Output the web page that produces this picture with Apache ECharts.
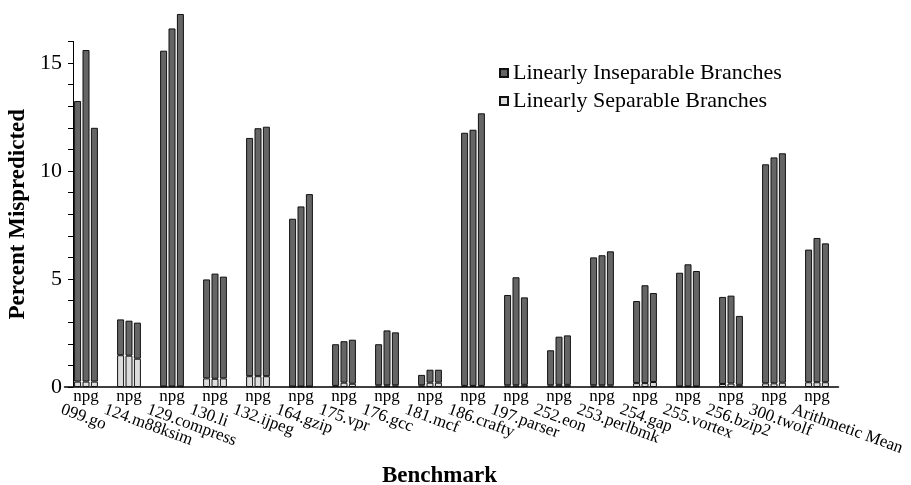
<!DOCTYPE html>
<html>
<head>
<meta charset="utf-8">
<script src="https://cdn.jsdelivr.net/npm/echarts@6/dist/echarts.min.js"></script>
<style>
  html, body { margin: 0; padding: 0; background: #fff; }
  #main { width: 911px; height: 485px; }
</style>
</head>
<body>
<div id="main"></div>
<script>
// benchmark names on the x axis
const benchmarks = ['099.go', '124.m88ksim', '129.compress', '130.li', '132.ijpeg', '164.gzip',
  '175.vpr', '176.gcc', '181.mcf', '186.crafty', '197.parser', '252.eon', '253.perlbmk',
  '254.gap', '255.vortex', '256.bzip2', '300.twolf', 'Arithmetic Mean']

// total misprediction (%) per predictor
const totalN = [13.24, 3.13, 15.57, 4.98, 11.53, 7.79, 1.98, 1.98, 0.56, 11.77, 4.26, 1.70, 6.00, 3.98, 5.29, 4.17, 10.31, 6.36]
const totalP = [15.60, 3.07, 16.60, 5.25, 11.98, 8.36, 2.12, 2.62, 0.80, 11.91, 5.08, 2.33, 6.10, 4.71, 5.68, 4.23, 10.63, 6.90]
const totalG = [12.00, 2.98, 17.27, 5.11, 12.05, 8.93, 2.19, 2.53, 0.80, 12.67, 4.15, 2.39, 6.28, 4.35, 5.37, 3.29, 10.82, 6.65]

// linearly separable part (%) per predictor
const sepN = [0.25, 1.47, 0.03, 0.40, 0.50, 0.02, 0.05, 0.08, 0.08, 0.05, 0.08, 0.08, 0.08, 0.18, 0.03, 0.14, 0.17, 0.22]
const sepP = [0.25, 1.45, 0.03, 0.38, 0.50, 0.02, 0.20, 0.08, 0.20, 0.05, 0.08, 0.10, 0.08, 0.18, 0.03, 0.16, 0.17, 0.22]
const sepG = [0.25, 1.31, 0.03, 0.40, 0.50, 0.02, 0.15, 0.08, 0.20, 0.05, 0.10, 0.10, 0.08, 0.23, 0.03, 0.10, 0.20, 0.22]

const predictors = ['n', 'p', 'g']
const sepData = [sepN, sepP, sepG]
const totalData = [totalN, totalP, totalG]

const SEP = 'Linearly Separable Branches'
const INSEP = 'Linearly Inseparable Branches'
const FONT = 'Liberation Serif'

const chart = echarts.init(document.getElementById('main'))

// 每个预测器一个堆叠：底部为可分，上部为不可分
const series = []
predictors.forEach((p, i) => {
  series.push({
    type: 'bar',
    name: SEP,
    stack: p,
    barWidth: 7,
    barGap: '20%',
    clip: false,
    data: sepData[i],
    itemStyle: { color: '#dcdcdc', borderColor: '#111', borderWidth: 1 },
    label: {
      show: true,
      position: 'bottom',
      distance: 1,
      formatter: () => p,
      fontFamily: FONT,
      fontSize: 17,
      color: '#000'
    }
  })
  series.push({
    type: 'bar',
    name: INSEP,
    stack: p,
    barWidth: 7,
    barGap: '20%',
    clip: false,
    data: totalData[i].map((t, k) => +(t - sepData[i][k]).toFixed(2)),
    itemStyle: { color: '#656565', borderColor: '#111', borderWidth: 1 }
  })
})

chart.setOption({
  animation: false,
  backgroundColor: '#fff',
  grid: { left: 64.5, right: 72.5, top: 41.4, bottom: 98, outerBoundsMode: 'none', containLabel: false },
  legend: {
    data: [INSEP, SEP],
    orient: 'vertical',
    left: 494,
    top: 57,
    icon: 'rect',
    itemWidth: 8,
    itemHeight: 8,
    itemGap: 6,
    textStyle: { fontFamily: FONT, fontSize: 22, color: '#000' }
  },
  xAxis: {
    type: 'category',
    data: benchmarks,
    name: 'Benchmark',
    nameLocation: 'middle',
    nameGap: 78,
    nameTextStyle: { fontFamily: FONT, fontSize: 23, fontWeight: 'bold', color: '#000', padding: [0, 24, 0, 0] },
    axisLine: { lineStyle: { color: '#000', width: 1.5 } },
    axisTick: { show: false },
    axisLabel: {
      interval: 0,
      rotate: -20,
      align: 'left',
      margin: 31,
      padding: [0, 0, 0, -26],
      fontFamily: FONT,
      fontSize: 17,
      color: '#000'
    }
  },
  yAxis: {
    type: 'value',
    min: 0,
    max: 16,
    interval: 1,
    offset: -8.5,
    name: 'Percent Mispredicted',
    nameLocation: 'middle',
    nameGap: 33,
    nameTextStyle: { fontFamily: FONT, fontSize: 23, fontWeight: 'bold', color: '#000' },
    axisLine: { show: true, lineStyle: { color: '#000', width: 1 } },
    axisTick: { show: true, length: 5, lineStyle: { color: '#000' } },
    axisLabel: {
      formatter: v => (v % 5 === 0 ? v : ''),
      margin: 11,
      fontFamily: FONT,
      fontSize: 22,
      color: '#000'
    },
    splitLine: { show: false }
  },
  series: series
})
</script>
</body>
</html>
